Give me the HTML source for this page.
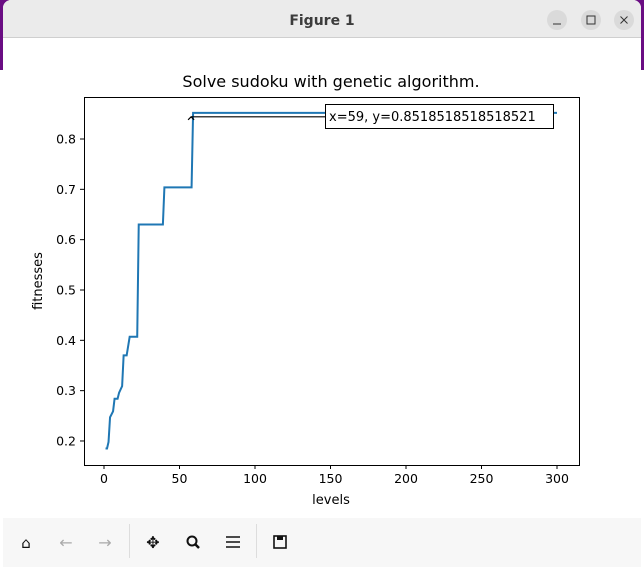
<!DOCTYPE html>
<html><head><meta charset="utf-8"><style>
body{margin:0;width:644px;height:567px;overflow:hidden;background:#fff;font-family:"DejaVu Sans","Liberation Sans",sans-serif;}
</style></head><body>
<svg width="644" height="567" xmlns="http://www.w3.org/2000/svg">
<rect x="0" y="0" width="644" height="567" fill="#ffffff"/>
<rect x="0" y="0" width="644" height="70" fill="#6a0d83"/>
<rect x="3" y="0" width="638" height="567" rx="8" fill="#ffffff"/>
<rect x="3" y="0" width="638" height="37" rx="8" fill="#ebebeb"/>
<rect x="3" y="20" width="638" height="17" fill="#ebebeb"/>
<line x1="3" y1="37.5" x2="641" y2="37.5" stroke="#cfcfcf"/>
<text x="322" y="25" text-anchor="middle" font-size="14" font-weight="bold" fill="#3c3c3c">Figure 1</text>
<circle cx="557" cy="20" r="10" fill="#dadada"/>
<line x1="553" y1="24" x2="561" y2="24" stroke="#333"/>
<circle cx="591" cy="20" r="10" fill="#dadada"/>
<rect x="587" y="16" width="8" height="8" fill="none" stroke="#333"/>
<circle cx="624" cy="20" r="10" fill="#dadada"/>
<path d="M620.5 16.5l7 7M627.5 16.5l-7 7" stroke="#333"/>
<rect x="3" y="518" width="638" height="49" fill="#f7f7f7"/>
<text x="26" y="548" text-anchor="middle" font-size="15" fill="#111">⌂</text>
<text x="66" y="548" text-anchor="middle" font-size="16" fill="#aaa">←</text>
<text x="105" y="548" text-anchor="middle" font-size="16" fill="#aaa">→</text>
<line x1="129.5" y1="524" x2="129.5" y2="558" stroke="#ddd"/>
<text x="153" y="548" text-anchor="middle" font-size="16" fill="#111">✥</text>
<g><circle cx="192" cy="541" r="4.5" fill="none" stroke="#111" stroke-width="2"/><line x1="195" y1="544" x2="199" y2="548" stroke="#111" stroke-width="2.5"/></g>
<g stroke="#111" stroke-width="1.5"><line x1="226" y1="537" x2="240" y2="537"/><line x1="226" y1="542" x2="240" y2="542"/><line x1="226" y1="547" x2="240" y2="547"/></g>
<line x1="256.5" y1="524" x2="256.5" y2="558" stroke="#ddd"/>
<g><rect x="274" y="536" width="12" height="12" fill="none" stroke="#111" stroke-width="1.6"/><rect x="277" y="536" width="6" height="4" fill="#111"/></g>
<text x="331" y="87" text-anchor="middle" font-size="16" fill="#000">Solve sudoku with genetic algorithm.</text>
<g id="plot"></g>
</svg>
<script>
const levels=[1,2,3,4,6,7,9,10,12,13,15,17,22,23,39,40,58,59,300];
const fitnesses=[0.185,0.185,0.198,0.247,0.259,0.284,0.284,0.296,0.309,0.37,0.37,0.407,0.407,0.630,0.630,0.704,0.704,0.852,0.852];
const xTicks=[0,50,100,150,200,250,300];
const yTicks=[0.2,0.3,0.4,0.5,0.6,0.7,0.8];
const annotText="x=59, y=0.8518518518518521";
const NS="http://www.w3.org/2000/svg";
const L=84,R=579,T=97,B=465;
const xs=v=>104+v*(453/300);
const ys=v=>139+(0.8-v)*503.3;
const g=document.getElementById('plot');
function mk(t,a){const e=document.createElementNS(NS,t);for(const k in a)e.setAttribute(k,a[k]);g.appendChild(e);return e;}
let frame=mk('rect',{x:L+0.5,y:T+0.5,width:R-L,height:B-T,fill:'none',stroke:'#000','stroke-width':1});


xTicks.forEach(v=>{const x=xs(v);
 let t=mk('line',{x1:x,y1:B,x2:x,y2:B+4,stroke:'#000'});
 
 
 let l=mk('text',{x:x,y:B+18,'text-anchor':'middle','font-size':12.5});l.textContent=v;
 
 });
yTicks.forEach(v=>{const y=ys(v);
 let t=mk('line',{x1:L-4,y1:y,x2:L,y2:y,stroke:'#000'});
 
 
 let l=mk('text',{x:L-8,y:y+4.5,'text-anchor':'end','font-size':12.5});l.textContent=v.toFixed(1);
 
 });
let xl=mk('text',{x:331,y:504,'text-anchor':'middle','font-size':13});xl.textContent='levels';


let yl=mk('text',{x:0,y:0,'text-anchor':'middle','font-size':13,transform:'translate(42,281) rotate(-90)'});yl.textContent='fitnesses';


let line=mk('polyline',{points:levels.map((v,i)=>xs(v)+','+ys(fitnesses[i])).join(' '),fill:'none',stroke:'#1f77b4','stroke-width':2});


const ax=levels[17],ay=fitnesses[17];
const px=xs(ax)-2,py=ys(ay)+4;
let ar=mk('path',{d:`M${px} ${py} L326 ${py} M${px-3} ${py+3} L${px} ${py} L${px+3} ${py+3}`,stroke:'#000',fill:'none','stroke-width':1.2});


let bx=mk('rect',{x:325.5,y:104.5,width:228,height:24,fill:'#fff',stroke:'#000'});


let at=mk('text',{x:329,y:121,'font-size':13});at.textContent=annotText;


</script>
</body></html>
